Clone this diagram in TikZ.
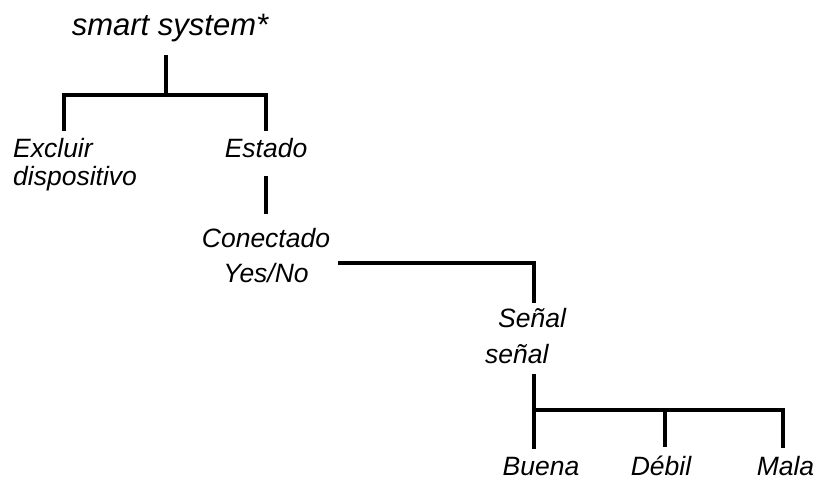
\documentclass[tikz,border=0pt]{standalone}
\usepackage{fontspec}
\setmainfont{Liberation Sans}
\usepackage{tikz}
\usetikzlibrary{positioning, calc}

\tikzset{
    lbl/.style={font=\fontsize{26.5}{28}\selectfont\itshape, inner sep=0pt, anchor=base},
    toplbl/.style={lbl, font=\fontsize{31}{34}\selectfont\itshape},
    link/.style={line width=3.2pt}
}

\begin{document}
\begin{tikzpicture}[x=1pt, y=-1pt]
    \useasboundingbox (0,0) rectangle (819,480);
    % Labels (multi-line ones sit on their last baseline)
    \node[toplbl] (root) at (170,35) {smart system*};
    \node[lbl, anchor=base west, align=left] (excl) at (13,185) {Excluir\\dispositivo};
    \node[lbl] (estado) at (266,157) {Estado};
    \node[lbl, align=center] (conn) at (266,282) {Conectado\\[7pt]Yes/No};
    \node[lbl, anchor=base west, align=left] (senal) at (485,363) {\hspace*{13pt}Señal\\[8pt]señal};
    \node[lbl] (buena) at (541,475) {Buena};
    \node[lbl] (debil) at (661,475) {Débil};
    \node[lbl] (mala) at (785.5,475) {Mala};

    % Forks
    \coordinate (fork1) at (166,95);
    \coordinate (fork2) at (534,263);
    \coordinate (fork3) at (534,410);

    % Connectors
    \draw[link] ([yshift=-13.5pt]fork1 |- root.south) -- (fork1);
    \draw[link] ([yshift=6.7pt]excl.north -| 64,0) |- (fork1) -| ([yshift=6.7pt]estado.north);
    \draw[link] ([yshift=-19pt]estado.south) -- ([yshift=13.7pt]conn.north);
    \draw[link] ([xshift=7.5pt]conn.east |- fork2) -| ([yshift=5pt]fork2 |- senal.north);
    \draw[link] ([yshift=-11pt]fork3 |- senal.south) -- ([yshift=8pt]fork3 |- buena.north);
    \draw[link] (fork3) -| ([xshift=-2.5pt,yshift=8pt]mala.north);
    \draw[link] ([xshift=4pt]debil.north |- fork3) -- ([xshift=4pt,yshift=8pt]debil.north);
\end{tikzpicture}
\end{document}
